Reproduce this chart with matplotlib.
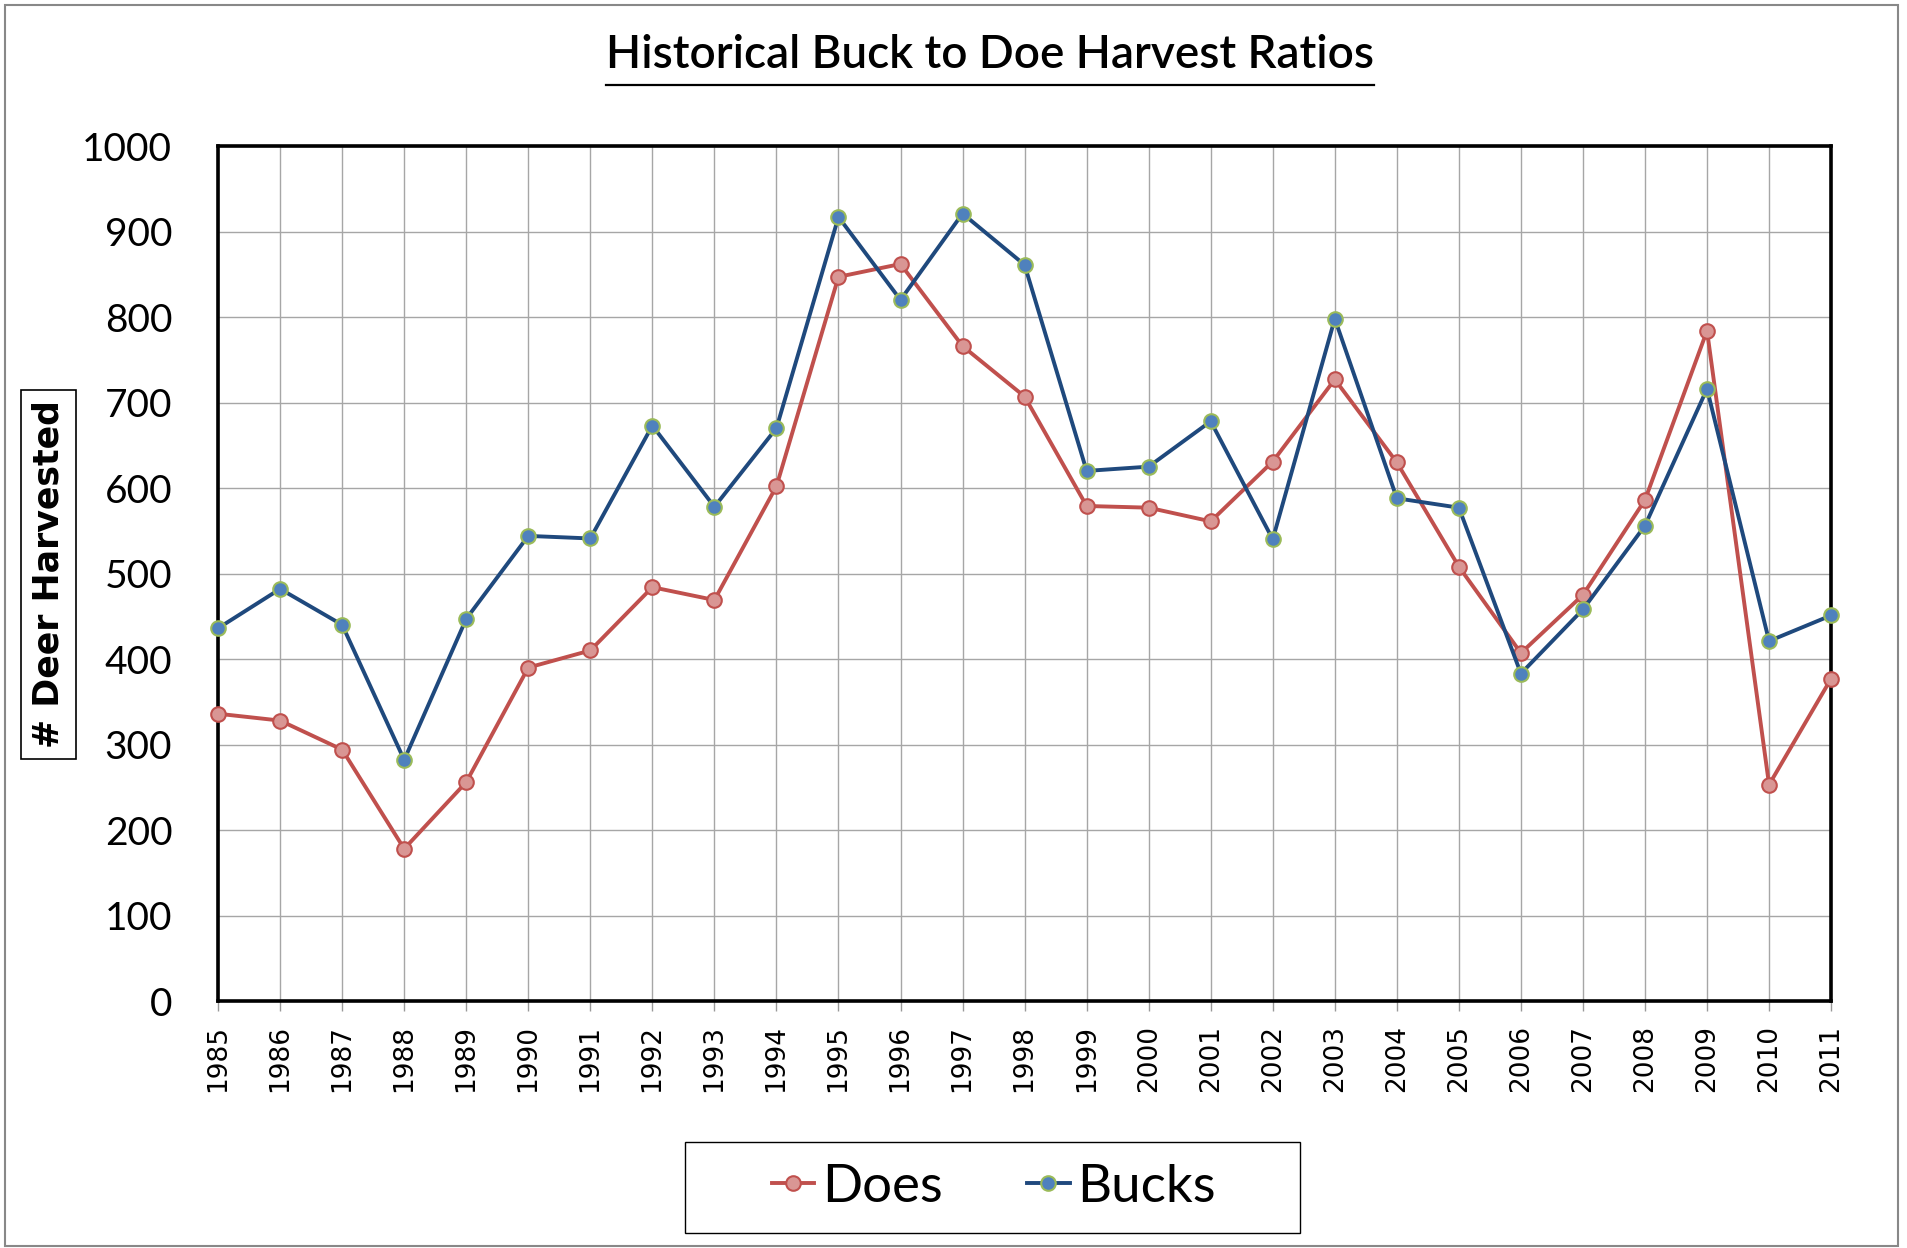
import matplotlib
matplotlib.use("Agg")
import matplotlib.pyplot as plt
from matplotlib.lines import Line2D
from matplotlib.patches import Rectangle

# Harvest counts
years = list(range(1985, 2012))
does = [336, 328, 294, 178, 256, 390, 410, 484, 469, 602, 847, 862, 766, 707,
        579, 577, 561, 631, 727, 630, 508, 407, 475, 586, 784, 253, 377]
bucks = [436, 482, 440, 282, 447, 544, 541, 673, 578, 670, 917, 820, 921, 861,
         620, 625, 678, 540, 798, 588, 577, 383, 458, 556, 716, 421, 451]

title = "Historical Buck to Doe Harvest Ratios"
y_label = "# Deer Harvested"
series_names = ["Does", "Bucks"]

fig = plt.figure(figsize=(19.08, 12.48), dpi=100)
ax = fig.add_axes([0.1143, 0.1979, 0.8454, 0.6851])

# Lines with markers (Excel-ish colours)
ax.plot(years, does, color="#C0504D", lw=2.8, marker="o", markersize=10.5,
        markerfacecolor="#D99694", markeredgecolor="#C0504D", markeredgewidth=1.5,
        clip_on=False, zorder=3, label=series_names[0])
ax.plot(years, bucks, color="#1F497D", lw=2.8, marker="o", markersize=10.5,
        markerfacecolor="#4F81BD", markeredgecolor="#9BBB59", markeredgewidth=1.5,
        clip_on=False, zorder=4, label=series_names[1])

ax.set_xlim(years[0], years[-1])
ax.set_ylim(0, 1000)
ax.set_xticks(years)
ax.set_xticklabels([str(y) for y in years], rotation=90, fontsize=19,
                   family="DejaVu Sans")
ax.set_yticks(range(0, 1001, 100))
ax.set_yticklabels([str(v) for v in range(0, 1001, 100)], fontsize=28,
                   family="Lato")
ax.tick_params(axis="x", length=7, width=1, color="#999999", pad=10)
ax.tick_params(axis="y", length=0, pad=33)

ax.grid(True, color="#A6A6A6", lw=1.0, zorder=0)
ax.set_axisbelow(True)
for side in ["top", "left", "right", "bottom"]:
    ax.spines[side].set_linewidth(2.6)
    ax.spines[side].set_color("black")

# Title with underline
t = fig.text(0.519, 0.9455, title, ha="center", va="baseline", fontsize=33,
             family="Lato", fontweight="semibold")

# Y axis label in a box
fig.text(0.0254, 0.5397, y_label, rotation=90, ha="center", va="center",
         fontsize=25, family="DejaVu Sans", fontweight="bold",
         bbox=dict(boxstyle="square,pad=0.3", facecolor="white",
                   edgecolor="black", linewidth=1.2))

# Legend with its own box
leg = fig.legend(loc="center", bbox_to_anchor=(0.521, 0.0485), ncol=2,
                 frameon=False, prop={"family": "Lato", "size": 38},
                 handlelength=0.8, handletextpad=0.15, columnspacing=1.6)
fig.patches.append(Rectangle((685 / 1908, 1 - 1233 / 1248), 615 / 1908, 91 / 1248,
                             transform=fig.transFigure, fill=False,
                             edgecolor="black", linewidth=1.0))

# Outer chart border
fig.patches.append(Rectangle((5 / 1908, 2 / 1248), 1893 / 1908, 1241 / 1248,
                             transform=fig.transFigure, fill=False,
                             edgecolor="#888888", linewidth=1.5))

fig.canvas.draw()
bb = t.get_window_extent().transformed(fig.transFigure.inverted())
fig.lines.append(Line2D([bb.x0, bb.x1], [0.9319, 0.9319], transform=fig.transFigure,
                        color="black", lw=1.6))

fig.savefig("out.png", dpi=100)
